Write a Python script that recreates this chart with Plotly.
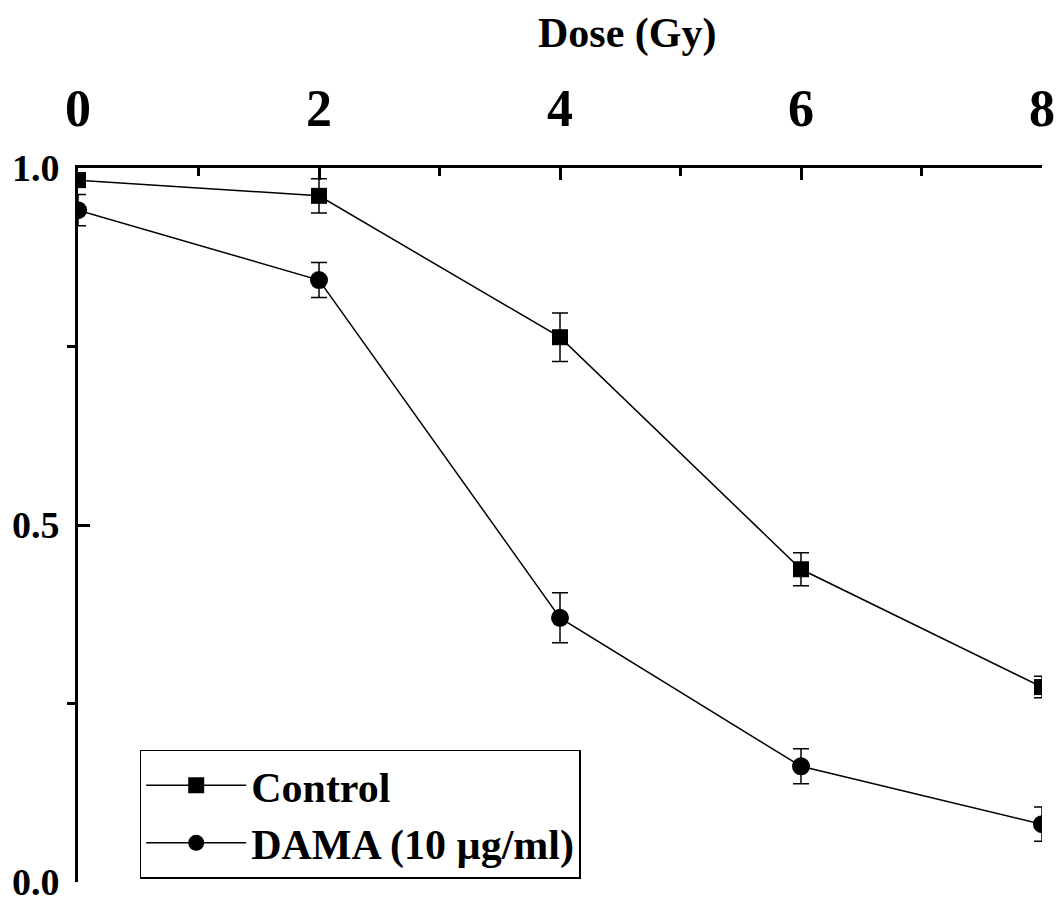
import plotly.graph_objects as go

dose = [0, 2, 4, 6, 8]
control = [0.983, 0.961, 0.763, 0.438, 0.273]
control_err = [0.010, 0.024, 0.034, 0.023, 0.015]
dama = [0.941, 0.843, 0.370, 0.162, 0.081]
dama_err = [0.022, 0.0245, 0.035, 0.0245, 0.024]

x_ticks = [0, 2, 4, 6, 8]
y_ticks = [0.0, 0.5, 1.0]
y_labels = ["0.0", "0.5", "1.0"]

FONT = "Liberation Serif"

fig = go.Figure()
fig.add_trace(go.Scatter(
    x=dose, y=control, name="<b>Control</b>", mode="lines+markers",
    line=dict(color="black", width=1.5),
    marker=dict(symbol="square", size=16, color="black"),
    error_y=dict(type="data", array=control_err, visible=True,
                 color="black", thickness=1.5, width=8),
))
fig.add_trace(go.Scatter(
    x=dose, y=dama, name="<b>DAMA (10 µg/ml)</b>", mode="lines+markers",
    line=dict(color="black", width=1.5),
    marker=dict(symbol="circle", size=18, color="black"),
    error_y=dict(type="data", array=dama_err, visible=True,
                 color="black", thickness=1.5, width=8),
))

fig.update_layout(
    width=1063, height=902,
    paper_bgcolor="white", plot_bgcolor="white",
    margin=dict(l=70, r=29, t=160, b=28, autoexpand=False),
    font=dict(family=FONT, color="black"),
    showlegend=True,
    legend=dict(
        x=0.064, y=0.185, xanchor="left", yanchor="top",
        bordercolor="black", borderwidth=1.5, bgcolor="white",
        font=dict(family=FONT, size=42, color="black"),
        itemwidth=100, tracegroupgap=0,
    ),
    xaxis=dict(
        side="top", range=[0, 8], tickvals=x_ticks,
        ticktext=[f"<b>{v}</b>" for v in x_ticks],
        showgrid=False, zeroline=False, automargin=False,
        showline=True, linecolor="black", linewidth=3,
        ticks="inside", ticklen=12, tickwidth=3, tickcolor="black",
        tickfont=dict(family=FONT, size=52, color="black"),
        ticklabelstandoff=18, ticklabeloverflow="allow",
        minor=dict(tickvals=[1, 3, 5, 7], ticks="inside", ticklen=8,
                   tickwidth=3, tickcolor="black", showgrid=False),
    ),
    yaxis=dict(
        range=[0, 1.0], tickvals=y_ticks,
        ticktext=[f"<b>{t}</b>" for t in y_labels],
        showgrid=False, zeroline=False, automargin=False,
        showline=True, linecolor="black", linewidth=3,
        ticks="inside", ticklen=12, tickwidth=3, tickcolor="black",
        tickfont=dict(family=FONT, size=38, color="black"),
        ticklabelstandoff=8, ticklabeloverflow="allow",
        minor=dict(tickvals=[0.25, 0.75], ticks="outside", ticklen=8,
                   tickwidth=3, tickcolor="black", showgrid=False),
    ),
    annotations=[dict(
        text="<b>Dose (Gy)</b>", xref="paper", yref="paper",
        x=0.569, y=1.0, yshift=135, xanchor="center", yanchor="middle",
        showarrow=False, font=dict(family=FONT, size=42, color="black"),
    )],
)

fig.write_html("out.html")
